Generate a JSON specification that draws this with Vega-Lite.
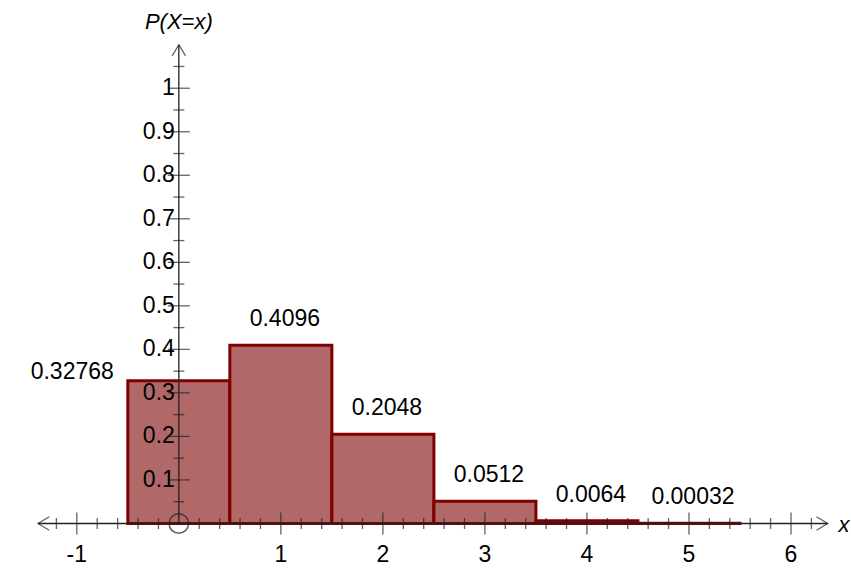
{
  "$schema": "https://vega.github.io/schema/vega-lite/v6.json",
  "autosize": "none",
  "padding": {"left": 36, "top": 36, "right": 9, "bottom": 3},
  "width": 806,
  "height": 531,
  "background": "white",
  "config": {"view": {"stroke": null}, "axis": {"disable": true}, "text": {"font": "Liberation Sans", "fontSize": 23}},
  "datasets": {
    "bars": [
      {"lo": -0.5, "hi": 0.5, "k": 0, "z": 0, "p": 0.32768, "label": "0.32768"},
      {"lo": 0.5, "hi": 1.5, "k": 1, "z": 0, "p": 0.4096, "label": "0.4096"},
      {"lo": 1.5, "hi": 2.5, "k": 2, "z": 0, "p": 0.2048, "label": "0.2048"},
      {"lo": 2.5, "hi": 3.5, "k": 3, "z": 0, "p": 0.0512, "label": "0.0512"},
      {"lo": 3.5, "hi": 4.5, "k": 4, "z": 0, "p": 0.0064, "label": "0.0064"},
      {"lo": 4.5, "hi": 5.5, "k": 5, "z": 0, "p": 0.00032, "label": "0.00032"}
    ],
    "xmajor": [{"v": -1, "z": 0, "t": "-1"}, {"v": 1, "z": 0, "t": "1"}, {"v": 2, "z": 0, "t": "2"}, {"v": 3, "z": 0, "t": "3"}, {"v": 4, "z": 0, "t": "4"}, {"v": 5, "z": 0, "t": "5"}, {"v": 6, "z": 0, "t": "6"}],
    "xminor": [{"v": -1.2, "z": 0}, {"v": -0.8, "z": 0}, {"v": -0.6, "z": 0}, {"v": -0.4, "z": 0}, {"v": -0.2, "z": 0}, {"v": 0.2, "z": 0}, {"v": 0.4, "z": 0}, {"v": 0.6, "z": 0}, {"v": 0.8, "z": 0}, {"v": 1.2, "z": 0}, {"v": 1.4, "z": 0}, {"v": 1.6, "z": 0}, {"v": 1.8, "z": 0}, {"v": 2.2, "z": 0}, {"v": 2.4, "z": 0}, {"v": 2.6, "z": 0}, {"v": 2.8, "z": 0}, {"v": 3.2, "z": 0}, {"v": 3.4, "z": 0}, {"v": 3.6, "z": 0}, {"v": 3.8, "z": 0}, {"v": 4.2, "z": 0}, {"v": 4.4, "z": 0}, {"v": 4.6, "z": 0}, {"v": 4.8, "z": 0}, {"v": 5.2, "z": 0}, {"v": 5.4, "z": 0}, {"v": 5.6, "z": 0}, {"v": 5.8, "z": 0}, {"v": 6.2, "z": 0}],
    "ymajor": [{"v": 0.1, "z": 0, "t": "0.1"}, {"v": 0.2, "z": 0, "t": "0.2"}, {"v": 0.3, "z": 0, "t": "0.3"}, {"v": 0.4, "z": 0, "t": "0.4"}, {"v": 0.5, "z": 0, "t": "0.5"}, {"v": 0.6, "z": 0, "t": "0.6"}, {"v": 0.7, "z": 0, "t": "0.7"}, {"v": 0.8, "z": 0, "t": "0.8"}, {"v": 0.9, "z": 0, "t": "0.9"}, {"v": 1.0, "z": 0, "t": "1"}],
    "yminor": [{"v": 0.05, "z": 0}, {"v": 0.15, "z": 0}, {"v": 0.25, "z": 0}, {"v": 0.35, "z": 0}, {"v": 0.45, "z": 0}, {"v": 0.55, "z": 0}, {"v": 0.65, "z": 0}, {"v": 0.75, "z": 0}, {"v": 0.85, "z": 0}, {"v": 0.95, "z": 0}, {"v": 1.05, "z": 0}],
    "arrows": [{"x": 6.36, "y": 0, "a": 0}, {"x": -1.38, "y": 0, "a": 180}, {"x": 0, "y": 1.1, "a": 270}],
    "axes": [{"x": -1.38, "x2": 6.36, "y": 0, "y2": 0}, {"x": 0, "x2": 0, "y": 0, "y2": 1.1}]
  },
  "layer": [
    {
      "data": {"name": "bars"},
      "mark": {"type": "rect", "fill": "#b06868", "stroke": "#800000", "strokeWidth": 3},
      "encoding": {
        "x": {"field": "lo", "type": "quantitative", "scale": {"domain": [-1.4, 6.5]}},
        "x2": {"field": "hi"},
        "y": {"field": "z", "type": "quantitative", "scale": {"domain": [-0.1, 1.12]}},
        "y2": {"field": "p"}
      }
    },
    {
      "data": {"name": "bars"},
      "transform": [{"filter": "datum.k > 0"}],
      "mark": {"type": "text", "baseline": "middle", "dy": -26, "dx": 4},
      "encoding": {
        "x": {"field": "k", "type": "quantitative", "scale": {"domain": [-1.4, 6.5]}},
        "y": {"field": "p", "type": "quantitative", "scale": {"domain": [-0.1, 1.12]}},
        "text": {"field": "label"}
      }
    },
    {
      "data": {"name": "bars"},
      "transform": [{"filter": "datum.k == 0"}],
      "mark": {"type": "text", "baseline": "middle", "align": "right", "dy": -9, "dx": -14},
      "encoding": {
        "x": {"field": "lo", "type": "quantitative", "scale": {"domain": [-1.4, 6.5]}},
        "y": {"field": "p", "type": "quantitative", "scale": {"domain": [-0.1, 1.12]}},
        "text": {"field": "label"}
      }
    },
    {
      "data": {"name": "axes"},
      "mark": {"type": "rule", "color": "#222", "strokeWidth": 1.3},
      "encoding": {
        "x": {"field": "x", "type": "quantitative", "scale": {"domain": [-1.4, 6.5]}},
        "x2": {"field": "x2"},
        "y": {"field": "y", "type": "quantitative", "scale": {"domain": [-0.1, 1.12]}},
        "y2": {"field": "y2"}
      }
    },
    {
      "data": {"name": "arrows"},
      "mark": {"type": "point", "shape": "M-1,-0.6L0,0L-1,0.6", "filled": false, "stroke": "#222", "strokeWidth": 1.3, "size": 500},
      "encoding": {
        "x": {"field": "x", "type": "quantitative", "scale": {"domain": [-1.4, 6.5]}},
        "y": {"field": "y", "type": "quantitative", "scale": {"domain": [-0.1, 1.12]}},
        "angle": {"field": "a", "type": "quantitative", "scale": null}
      }
    },
    {
      "data": {"name": "xmajor"},
      "mark": {"type": "tick", "orient": "vertical", "color": "#222", "size": 22, "thickness": 1.3},
      "encoding": {
        "x": {"field": "v", "type": "quantitative", "scale": {"domain": [-1.4, 6.5]}},
        "y": {"field": "z", "type": "quantitative", "scale": {"domain": [-0.1, 1.12]}}
      }
    },
    {
      "data": {"name": "xminor"},
      "mark": {"type": "tick", "orient": "vertical", "color": "#222", "size": 11, "thickness": 1.3},
      "encoding": {
        "x": {"field": "v", "type": "quantitative", "scale": {"domain": [-1.4, 6.5]}},
        "y": {"field": "z", "type": "quantitative", "scale": {"domain": [-0.1, 1.12]}}
      }
    },
    {
      "data": {"name": "ymajor"},
      "mark": {"type": "tick", "orient": "horizontal", "color": "#222", "size": 22, "thickness": 1.3},
      "encoding": {
        "y": {"field": "v", "type": "quantitative", "scale": {"domain": [-0.1, 1.12]}},
        "x": {"field": "z", "type": "quantitative", "scale": {"domain": [-1.4, 6.5]}}
      }
    },
    {
      "data": {"name": "yminor"},
      "mark": {"type": "tick", "orient": "horizontal", "color": "#222", "size": 11, "thickness": 1.3},
      "encoding": {
        "y": {"field": "v", "type": "quantitative", "scale": {"domain": [-0.1, 1.12]}},
        "x": {"field": "z", "type": "quantitative", "scale": {"domain": [-1.4, 6.5]}}
      }
    },
    {
      "data": {"name": "xmajor"},
      "mark": {"type": "text", "baseline": "middle", "dy": 32},
      "encoding": {
        "x": {"field": "v", "type": "quantitative", "scale": {"domain": [-1.4, 6.5]}},
        "y": {"field": "z", "type": "quantitative", "scale": {"domain": [-0.1, 1.12]}},
        "text": {"field": "t"}
      }
    },
    {
      "data": {"name": "ymajor"},
      "mark": {"type": "text", "baseline": "middle", "align": "right", "dx": -4},
      "encoding": {
        "y": {"field": "v", "type": "quantitative", "scale": {"domain": [-0.1, 1.12]}},
        "x": {"field": "z", "type": "quantitative", "scale": {"domain": [-1.4, 6.5]}},
        "text": {"field": "t"}
      }
    },
    {
      "data": {"values": [{"x": 0, "y": 0}]},
      "mark": {"type": "point", "shape": "circle", "filled": false, "stroke": "#222", "strokeWidth": 1.5, "size": 380},
      "encoding": {
        "x": {"field": "x", "type": "quantitative", "scale": {"domain": [-1.4, 6.5]}},
        "y": {"field": "y", "type": "quantitative", "scale": {"domain": [-0.1, 1.12]}}
      }
    },
    {
      "data": {"values": [{"x": 0, "y": 1.12, "t": "P(X=x)"}]},
      "mark": {"type": "text", "fontStyle": "italic", "baseline": "middle", "fontSize": 22, "dy": -14},
      "encoding": {
        "x": {"field": "x", "type": "quantitative", "scale": {"domain": [-1.4, 6.5]}},
        "y": {"field": "y", "type": "quantitative", "scale": {"domain": [-0.1, 1.12]}},
        "text": {"field": "t"}
      }
    },
    {
      "data": {"values": [{"x": 6.52, "y": 0, "t": "x"}]},
      "mark": {"type": "text", "fontStyle": "italic", "baseline": "middle", "fontSize": 22, "dy": 2},
      "encoding": {
        "x": {"field": "x", "type": "quantitative", "scale": {"domain": [-1.4, 6.5]}},
        "y": {"field": "y", "type": "quantitative", "scale": {"domain": [-0.1, 1.12]}},
        "text": {"field": "t"}
      }
    }
  ]
}
